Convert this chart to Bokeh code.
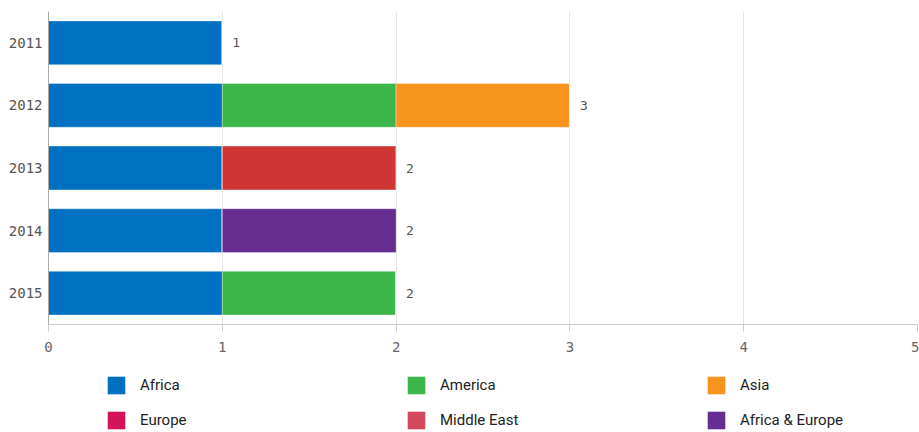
from bokeh.plotting import figure
from bokeh.layouts import column
from bokeh.models import FactorRange, Range1d, FixedTicker, Legend, LegendItem, ColumnDataSource
from bokeh.core.properties import value
from bokeh.embed import file_html
from bokeh.resources import INLINE

years = ["2011", "2012", "2013", "2014", "2015"]
series = ["Africa", "America", "Asia", "Europe", "Middle East", "Africa & Europe"]
africa = [1, 1, 1, 1, 1]
america = [0, 1, 0, 0, 1]
asia = [0, 1, 0, 0, 0]
europe = [0, 0, 0, 0, 0]
middle_east = [0, 0, 1, 0, 0]
africa_europe = [0, 0, 0, 1, 0]
bar_colors = ["#0070c0", "#3cb54a", "#f7941e", "#d4145a", "#cf3535", "#662d91"]
legend_colors = ["#0070c0", "#3cb54a", "#f7941e", "#d4145a", "#d3475f", "#662d91"]
x_ticks = [0, 1, 2, 3, 4, 5]

MONO = "DejaVu Sans Mono"
W = 919

data = {"year": years}
for name, vals in zip(series, [africa, america, asia, europe, middle_east, africa_europe]):
    data[name] = vals
totals = [sum(v) for v in zip(africa, america, asia, europe, middle_east, africa_europe)]
data["total"] = totals
data["total_label"] = [str(t) for t in totals]
source = ColumnDataSource(data)

p = figure(width=W, height=362, output_backend="svg", toolbar_location=None,
           y_range=FactorRange(*reversed(years)), x_range=Range1d(0, 5),
           min_border_left=48, min_border_right=2, min_border_top=11, min_border_bottom=38)
p.outline_line_color = None

p.hbar_stack(series, y="year", height=0.7, color=bar_colors, source=source,
             line_color="white", line_alpha=0.35, line_width=1)

p.text(x="total", y="year", text="total_label", source=source, x_offset=10,
       text_align="left", text_baseline="middle", text_font=value(MONO),
       text_font_size="13px", text_color="#555555")

p.xaxis.ticker = FixedTicker(ticks=x_ticks)
p.xaxis.axis_line_color = "#cccccc"
p.xaxis.major_tick_line_color = "#cccccc"
p.xaxis.major_tick_out = 7
p.xaxis.major_tick_in = 0
p.xaxis.minor_tick_line_color = None
p.xaxis.major_label_text_font = MONO
p.xaxis.major_label_text_font_size = "14px"
p.xaxis.major_label_text_color = "#666666"
p.xaxis.major_label_standoff = 10

p.yaxis.axis_line_color = "#aaaaaa"
p.yaxis.major_tick_line_color = None
p.yaxis.major_tick_out = 0
p.yaxis.major_tick_in = 0
p.yaxis.minor_tick_line_color = None
p.yaxis.major_label_text_font = MONO
p.yaxis.major_label_text_font_size = "14px"
p.yaxis.major_label_text_color = "#555555"
p.yaxis.major_label_standoff = 6

p.xgrid.grid_line_color = "#e6e6e6"
p.ygrid.grid_line_color = None

# legend figure (frame is aligned with the main plot's frame by the column layout)
lg = figure(width=W, height=70, output_backend="svg", toolbar_location=None,
            x_axis_type=None, y_axis_type=None, x_range=Range1d(0, 1), y_range=Range1d(0, 1),
            min_border_left=0, min_border_right=0, min_border_top=0, min_border_bottom=0)
lg.outline_line_color = None
lg.xgrid.grid_line_color = None
lg.ygrid.grid_line_color = None

items = []
for name, c in zip(series, legend_colors):
    src = ColumnDataSource(dict(y=[-5.0], left=[0.0], right=[0.0]))
    r = lg.hbar(y="y", left="left", right="right", height=0.1, source=src,
                fill_color=c, line_color=None)
    items.append(LegendItem(label=name, renderers=[r]))

legend = Legend(items=items, orientation="horizontal", ncols=3,
                glyph_width=22, glyph_height=22, label_height=22,
                label_standoff=13, label_width=252, spacing=13,
                label_text_font="Roboto", label_text_font_size="15px",
                label_text_color="#222222", border_line_color=None,
                background_fill_alpha=0, padding=0, margin=0,
                location=(57, 1))
lg.add_layout(legend, "center")

layout = column(p, lg, spacing=0)
open("out.html", "w").write(file_html(layout, INLINE))
